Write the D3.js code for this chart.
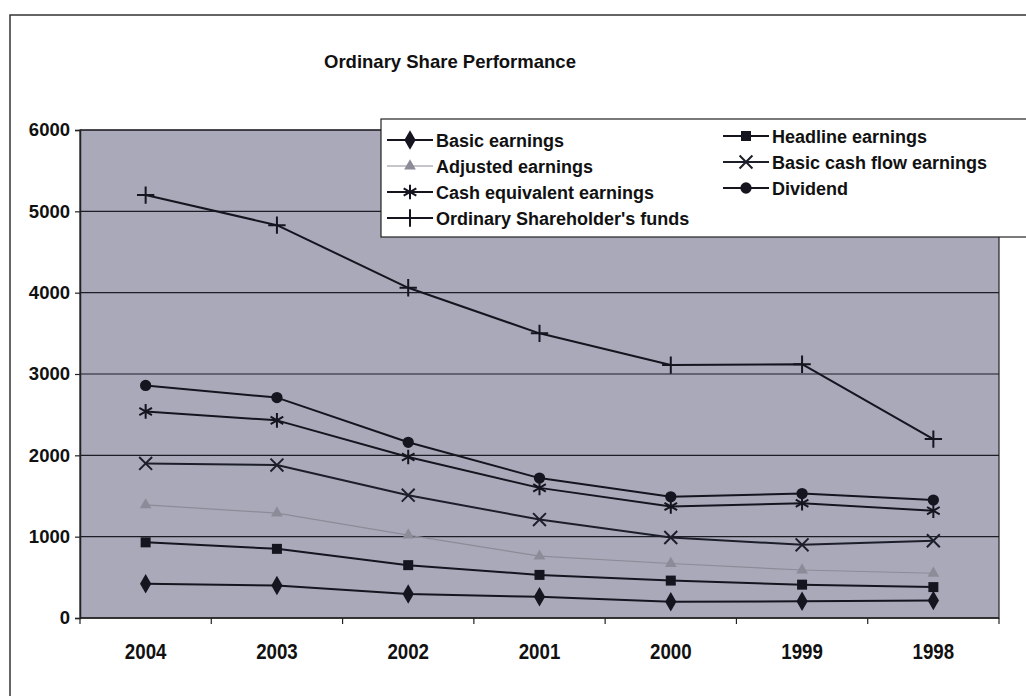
<!DOCTYPE html>
<html>
<head>
<meta charset="utf-8">
<script src="https://cdn.jsdelivr.net/npm/d3@7"></script>
<style>
  html, body { margin: 0; padding: 0; background: #fff; }
  svg text { font-family: "Liberation Sans", Arial, sans-serif; font-weight: bold; fill: #111; }
</style>
</head>
<body>
<svg id="chart" width="1026" height="696"></svg>
<script>
// Years on the category axis (most recent first)
const years = ["2004", "2003", "2002", "2001", "2000", "1999", "1998"];
const yTicks = [0, 1000, 2000, 3000, 4000, 5000, 6000];

// Series values per year
const basicEarnings        = [420, 400, 295, 260, 200, 205, 215];
const headlineEarnings     = [930, 850, 650, 530, 460, 410, 380];
const adjustedEarnings     = [1390, 1290, 1020, 760, 670, 590, 550];
const basicCashFlow        = [1900, 1880, 1510, 1210, 990, 900, 950];
const cashEquivalent       = [2540, 2430, 1980, 1600, 1370, 1410, 1320];
const dividend             = [2860, 2710, 2160, 1720, 1490, 1530, 1450];
const shareholdersFunds    = [5200, 4830, 4060, 3500, 3110, 3120, 2200];

const seriesNames = [
  "Basic earnings", "Headline earnings", "Adjusted earnings",
  "Basic cash flow earnings", "Cash equivalent earnings", "Dividend",
  "Ordinary Shareholder's funds"
];

const series = [
  { name: seriesNames[0], values: basicEarnings,     marker: "diamond",  color: "#151520", width: 2 },
  { name: seriesNames[1], values: headlineEarnings,  marker: "square",   color: "#151520", width: 2 },
  { name: seriesNames[2], values: adjustedEarnings,  marker: "triangle", color: "#8c8c98", width: 1.2 },
  { name: seriesNames[3], values: basicCashFlow,     marker: "times",    color: "#1c1f2a", width: 2 },
  { name: seriesNames[4], values: cashEquivalent,    marker: "asterisk", color: "#151520", width: 2 },
  { name: seriesNames[5], values: dividend,          marker: "circle",   color: "#151520", width: 2 },
  { name: seriesNames[6], values: shareholdersFunds, marker: "plus",     color: "#151520", width: 2 }
];

const svg = d3.select("#chart");
const plot = { left: 80, right: 999, top: 130, bottom: 618 };

const x = d3.scaleBand().domain(years).range([plot.left, plot.right]);
const y = d3.scaleLinear().domain([0, 6000]).range([plot.bottom, plot.top]);

// Outer frame (top and left edges)
svg.append("path")
  .attr("d", "M10,696 L10,15 L1026,15")
  .attr("fill", "none").attr("stroke", "#333").attr("stroke-width", 1.5);

// Title
svg.append("text")
  .attr("x", 450).attr("y", 68)
  .attr("text-anchor", "middle")
  .style("font-size", "18.5px")
  .text("Ordinary Share Performance");

// Plot area
svg.append("rect")
  .attr("x", plot.left).attr("y", plot.top)
  .attr("width", plot.right - plot.left).attr("height", plot.bottom - plot.top)
  .attr("fill", "#a9a9ba").attr("stroke", "#222").attr("stroke-width", 1.2);

// Horizontal gridlines
svg.append("g").selectAll("line").data(yTicks.filter(d => d > 0)).join("line")
  .attr("x1", plot.left).attr("x2", plot.right)
  .attr("y1", d => y(d)).attr("y2", d => y(d))
  .attr("stroke", "#1d1d26").attr("stroke-width", 1.2);

// Y axis
const yAxis = svg.append("g")
  .attr("transform", `translate(${plot.left},0)`)
  .call(d3.axisLeft(y).tickValues(yTicks).tickSize(5).tickPadding(5).tickFormat(d3.format("d")));
yAxis.select(".domain").attr("stroke", "#222").attr("stroke-width", 1.5);
yAxis.selectAll(".tick line").attr("stroke", "#222").attr("stroke-width", 1.2);
yAxis.selectAll("text").style("font-size", "18.5px")
  .attr("font-family", null).attr("font-size", null).attr("fill", "#111");

// X axis with ticks between categories
const xAxisG = svg.append("g").attr("transform", `translate(0,${plot.bottom})`);
xAxisG.append("line")
  .attr("x1", plot.left).attr("x2", plot.right).attr("y1", 0).attr("y2", 0)
  .attr("stroke", "#222").attr("stroke-width", 1.5);
const boundaries = years.map(d => x(d)).concat([x(years[years.length - 1]) + x.bandwidth()]);
xAxisG.selectAll("line.tick").data(boundaries).join("line")
  .attr("class", "tick")
  .attr("x1", d => d).attr("x2", d => d).attr("y1", 0).attr("y2", 6)
  .attr("stroke", "#222").attr("stroke-width", 1.2);
xAxisG.selectAll("text").data(years).join("text")
  .attr("transform", d => `translate(${x(d) + x.bandwidth() / 2},41) scale(0.85,1)`)
  .attr("text-anchor", "middle")
  .style("font-size", "22px")
  .text(d => d);

// Marker drawing
function drawMarker(g, type, color) {
  const sym = {
    diamond:  [d3.symbolDiamond, 110, true],
    square:   [d3.symbolSquare, 100, true],
    triangle: [d3.symbolTriangle, 60, true],
    circle:   [d3.symbolCircle, 100, true],
    times:    [d3.symbolTimes, 110, false],
    asterisk: [d3.symbolAsterisk, 150, false],
    plus:     [d3.symbolPlus, 100, false]
  }[type];
  const p = g.append("path").attr("d", d3.symbol(sym[0], sym[1])());
  if (sym[2]) p.attr("fill", color).attr("stroke", "none");
  else p.attr("fill", "none").attr("stroke", color).attr("stroke-width", 2);
}

const cx = d => x(d) + x.bandwidth() / 2;
const line = d3.line().x((v, i) => cx(years[i])).y(v => y(v));

const linesG = svg.append("g");
series.forEach(s => {
  linesG.append("path")
    .attr("d", line(s.values))
    .attr("fill", "none").attr("stroke", s.color).attr("stroke-width", s.width)
    .attr("stroke-linejoin", "round");
  s.values.forEach((v, i) => {
    const g = linesG.append("g").attr("transform", `translate(${cx(years[i])},${y(v)})`);
    drawMarker(g, s.marker, s.color);
  });
});

// Legend
const legend = svg.append("g");
legend.append("rect")
  .attr("x", 381).attr("y", 119).attr("width", 660).attr("height", 118)
  .attr("fill", "#fff").attr("stroke", "#222").attr("stroke-width", 1.2);

const legendItems = [
  { s: series[0], col: 0, y: 140 },
  { s: series[2], col: 0, y: 166 },
  { s: series[4], col: 0, y: 192 },
  { s: series[6], col: 0, y: 218 },
  { s: series[1], col: 1, y: 136 },
  { s: series[3], col: 1, y: 162 },
  { s: series[5], col: 1, y: 188 }
];
const legendCols = [387, 723];
legendItems.forEach(it => {
  const x0 = legendCols[it.col];
  const g = legend.append("g").attr("transform", `translate(${x0},${it.y})`);
  g.append("line").attr("x1", 0).attr("x2", 46).attr("y1", 0).attr("y2", 0)
    .attr("stroke", it.s.color).attr("stroke-width", it.s.width);
  drawMarker(g.append("g").attr("transform", "translate(23,0)"), it.s.marker, it.s.color);
  g.append("text").attr("x", 49).attr("y", 6.5)
    .style("font-size", "18px")
    .text(it.s.name);
});
</script>
</body>
</html>
